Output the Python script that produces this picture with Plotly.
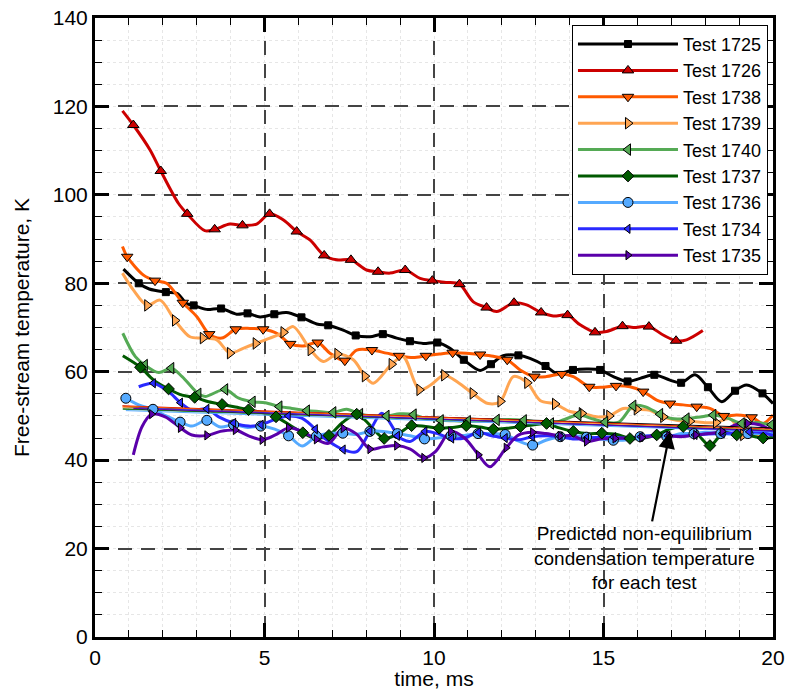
import plotly.graph_objects as go

# ---------------- data ----------------
names = ["Test 1725", "Test 1726", "Test 1738", "Test 1739", "Test 1740",
         "Test 1737", "Test 1736", "Test 1734", "Test 1735"]

# Test 1725
t_mk_1725 = [1.29, 2.09, 2.91, 3.72, 4.50, 5.29, 6.09, 6.88, 7.69, 8.49, 9.29, 10.10, 10.88, 11.68,
             12.49, 13.29, 14.10, 14.90, 15.71, 16.50, 17.29, 18.08, 18.88, 19.69]
T_mk_1725 = [80.0, 78.0, 75.0, 74.3, 73.2, 73.0, 72.3, 70.5, 68.2, 68.5, 66.9, 66.6, 62.7, 61.7,
             63.7, 61.3, 60.4, 60.4, 57.8, 59.3, 57.5, 56.5, 55.7, 55.1]
t_ln_1725 = [0.84, 1.60, 2.43, 2.70, 3.29, 4.18, 4.87, 5.65, 6.54, 7.32, 8.11, 8.90, 9.68, 10.47, 11.36,
             12.04, 12.83, 13.62, 14.50, 15.29, 16.08, 16.96, 17.70, 18.49, 19.22, 20.0]
T_ln_1725 = [83.2, 78.7, 77.7, 75.4, 74.1, 73.0, 72.4, 73.4, 70.8, 69.4, 67.9, 67.6, 66.4, 65.3, 60.3,
             63.6, 63.0, 59.6, 60.6, 58.9, 58.5, 58.1, 59.3, 53.2, 57.0, 52.8]

# Test 1726
t_mk_1726 = [1.13, 1.94, 2.72, 3.53, 4.35, 5.15, 5.95, 6.76, 7.55, 8.35, 9.15, 9.95, 10.75, 11.55,
             12.36, 13.16, 13.94, 14.75, 15.56, 16.34, 17.14]
T_mk_1726 = [115.8, 105.4, 95.7, 92.2, 93.1, 95.7, 91.7, 86.3, 85.3, 82.6, 83.0, 80.6, 79.8, 74.5,
             75.6, 73.4, 72.8, 68.9, 70.3, 70.2, 67.0]
t_ln_1726 = [0.81, 1.62, 2.46, 3.24, 3.98, 4.77, 5.56, 6.34, 7.13, 8.01, 8.70, 9.59, 10.35, 11.16,
             11.85, 12.73, 13.52, 14.31, 15.09, 15.88, 16.76, 17.45, 17.93]
T_ln_1726 = [119.0, 110.2, 98.1, 91.9, 93.4, 93.4, 94.3, 89.8, 85.3, 83.0, 82.3, 81.1, 80.2, 75.8,
             73.6, 75.1, 72.6, 70.6, 69.1, 70.0, 68.3, 67.2, 69.3]

# Test 1738
t_mk_1738 = [0.95, 1.77, 2.59, 3.37, 4.15, 4.96, 5.76, 6.57, 7.37, 8.17, 8.97, 9.76, 10.55, 11.36,
             12.16, 12.96, 13.77, 14.58, 15.37, 16.17, 16.96, 17.75, 18.55, 19.37]
T_mk_1738 = [86.0, 80.6, 75.6, 68.5, 69.6, 69.6, 66.3, 66.6, 62.5, 64.9, 63.6, 63.6, 64.3, 63.9,
             62.7, 58.9, 59.5, 56.6, 56.8, 55.5, 52.8, 52.1, 50.0, 49.7]
t_ln_1738 = [0.81, 1.42, 2.11, 3.00, 3.74, 4.57, 5.36, 6.14, 6.93, 7.72, 8.60, 9.39, 10.16, 10.95,
             11.75, 12.54, 13.32, 14.11, 14.98, 15.78, 16.57, 17.35, 18.14, 18.93, 19.71, 20.0]
T_ln_1738 = [88.3, 81.9, 80.0, 72.5, 67.6, 69.8, 68.7, 65.8, 64.2, 64.9, 64.2, 63.2, 64.0, 64.2,
             63.5, 60.4, 58.9, 58.9, 56.5, 56.6, 53.6, 52.5, 51.7, 50.2, 48.3, 50.2]

# Test 1739
t_mk_1739 = [1.54, 2.36, 3.18, 3.98, 4.74, 5.56, 6.36, 7.15, 7.96, 8.75, 9.57, 10.30, 11.14, 11.96,
             12.75, 13.57, 14.36, 15.17, 15.98, 16.76, 17.55, 18.32, 19.12]
T_mk_1739 = [75.0, 71.6, 67.6, 64.2, 66.4, 68.9, 64.9, 64.0, 59.0, 61.7, 55.9, 59.2, 55.1, 53.3,
             57.5, 52.7, 50.6, 50.0, 51.5, 49.8, 48.8, 48.5, 45.7]
t_ln_1739 = [0.81, 1.13, 1.92, 2.80, 3.59, 4.37, 5.16, 5.85, 6.73, 7.62, 8.21, 9.09, 9.90, 10.72,
             11.60, 12.34, 13.13, 14.01, 14.80, 15.58, 16.37, 17.15, 17.95, 18.73, 19.50, 20.0]
T_ln_1739 = [82.3, 78.5, 76.2, 67.9, 67.2, 65.3, 67.6, 70.2, 62.3, 62.7, 57.4, 63.4, 57.0, 57.5,
             52.8, 58.9, 53.5, 51.0, 49.8, 51.7, 51.3, 49.0, 48.5, 49.4, 45.5, 46.1]

# Test 1740
t_mk_1740 = [1.47, 2.25, 3.05, 3.84, 4.65, 5.44, 6.25, 7.03, 7.82, 8.60, 9.40, 10.20, 11.00, 11.85,
             12.65, 13.45, 14.26, 15.05, 15.88, 16.67, 17.45, 18.24, 19.08, 19.96]
T_mk_1740 = [61.5, 60.8, 55.0, 56.0, 53.2, 52.1, 51.2, 50.8, 50.4, 50.0, 50.3, 49.0, 48.8, 49.1,
             49.0, 48.3, 50.2, 48.6, 52.3, 50.4, 49.4, 50.2, 48.3, 48.0]
t_ln_1740 = [0.82, 1.19, 1.88, 2.57, 3.25, 4.24, 5.02, 5.81, 6.60, 7.42, 8.20, 9.00, 9.70, 10.60,
             11.45, 12.25, 13.05, 13.85, 14.70, 15.45, 16.22, 17.01, 17.90, 18.65, 19.50]
T_ln_1740 = [68.7, 63.4, 59.8, 58.9, 54.4, 54.0, 53.0, 51.7, 51.0, 51.5, 50.0, 50.5, 49.5, 48.9,
             48.9, 49.2, 48.6, 49.2, 49.3, 48.6, 52.1, 49.4, 49.8, 49.5, 48.5]

# Test 1737
t_mk_1737 = [1.34, 2.17, 2.94, 3.75, 4.53, 5.34, 6.13, 6.90, 7.72, 8.53, 9.34, 10.15, 10.95, 11.75,
             12.55, 13.32, 14.11, 14.95, 15.78, 16.57, 17.35, 18.14, 18.93, 19.71]
T_mk_1737 = [61.0, 56.1, 54.2, 52.6, 51.4, 49.8, 46.2, 45.6, 50.4, 44.9, 47.8, 47.2, 47.8, 47.0,
             47.6, 48.3, 46.5, 46.1, 44.9, 45.7, 47.6, 43.3, 45.7, 45.0]
t_ln_1737 = [0.82, 1.73, 2.57, 3.35, 4.14, 5.00, 5.81, 6.50, 7.30, 8.10, 8.95, 9.75, 10.55, 11.35,
             12.15, 12.95, 13.70, 14.50, 15.40, 16.20, 16.95, 17.75, 18.55, 19.30, 20.0]
T_ln_1737 = [63.6, 58.1, 54.7, 53.2, 52.0, 50.6, 47.6, 44.9, 48.5, 48.0, 46.0, 47.6, 47.4, 47.5,
             47.2, 48.0, 47.3, 46.0, 45.8, 45.0, 47.0, 46.0, 46.3, 45.5, 45.2]

# Test 1736
t_mk_1736 = [0.91, 1.71, 2.51, 3.30, 4.09, 4.89, 5.71, 6.53, 7.31, 8.11, 8.92, 9.72, 10.50, 11.30,
             12.10, 12.91, 13.72, 14.50, 15.29, 16.08, 16.87, 17.67, 18.46, 19.26]
T_mk_1736 = [54.0, 51.5, 48.6, 49.0, 48.0, 47.7, 45.5, 45.4, 46.1, 46.5, 46.0, 44.8, 45.5, 46.0,
             45.8, 43.4, 45.3, 45.2, 44.5, 45.3, 45.3, 46.0, 46.0, 46.0]
t_ln_1736 = [1.29, 2.10, 2.86, 3.70, 4.50, 5.30, 6.11, 6.90, 7.70, 8.50, 9.30, 10.10, 10.90, 11.70,
             12.50, 13.30, 14.10, 14.90, 15.70, 16.50, 17.30, 18.00, 18.90, 20.0]
T_ln_1736 = [52.5, 50.0, 47.7, 47.5, 47.4, 47.0, 43.2, 46.0, 45.8, 46.5, 45.5, 45.0, 45.6, 46.0,
             44.3, 44.5, 45.5, 44.8, 44.6, 45.5, 46.0, 46.3, 45.8, 46.0]

# Test 1734
t_mk_1734 = [1.72, 2.52, 3.30, 4.09, 4.90, 5.70, 6.50, 7.32, 8.11, 8.92, 9.73, 10.52, 11.31, 12.10,
             12.90, 13.72, 14.50, 15.30, 16.10, 16.90, 17.70, 18.50, 19.30]
T_mk_1734 = [57.4, 53.0, 51.6, 48.4, 48.0, 50.0, 47.0, 42.4, 46.6, 45.5, 46.5, 44.9, 46.3, 45.0,
             45.3, 45.3, 45.0, 45.2, 45.3, 45.5, 45.7, 46.0, 46.4]
t_ln_1734 = [1.29, 2.17, 2.86, 3.65, 4.53, 5.30, 6.10, 6.64, 7.72, 8.46, 8.80, 9.29, 10.10, 10.90,
             11.70, 12.50, 13.30, 14.10, 14.90, 15.70, 16.50, 17.30, 18.10, 18.90, 19.70, 20.0]
T_ln_1734 = [56.6, 55.5, 51.3, 49.8, 47.7, 49.2, 49.5, 45.7, 41.9, 50.6, 47.2, 44.2, 46.0, 45.0,
             45.5, 44.6, 45.5, 44.8, 45.2, 44.9, 45.5, 45.4, 45.9, 46.2, 46.2, 45.6]

# Test 1735
t_mk_1735 = [1.67, 2.52, 3.30, 4.14, 4.93, 5.71, 6.53, 7.32, 8.11, 8.90, 9.70, 10.49, 11.31, 12.13,
             12.91, 13.72, 14.50, 15.34, 16.13, 16.93, 17.72, 18.50, 19.25]
T_mk_1735 = [50.4, 47.3, 45.6, 46.8, 44.6, 47.3, 44.7, 47.2, 42.5, 43.3, 40.5, 46.5, 41.2, 42.8,
             46.3, 45.5, 44.2, 44.9, 45.1, 45.5, 45.7, 46.5, 48.3]
t_ln_1735 = [1.13, 1.39, 2.07, 2.86, 3.70, 4.53, 5.32, 6.10, 6.89, 7.70, 8.50, 9.30, 10.05, 10.90,
             11.65, 12.50, 13.30, 14.10, 14.90, 15.70, 16.50, 17.30, 18.10, 18.90, 19.60, 20.0]
T_ln_1735 = [41.2, 47.6, 49.8, 45.7, 46.5, 45.5, 45.7, 46.5, 43.8, 46.0, 43.0, 42.5, 42.0, 45.0,
             38.5, 45.7, 46.0, 45.5, 44.8, 45.0, 45.5, 45.3, 46.0, 48.0, 48.0, 46.5]

# Predicted non-equilibrium condensation temperature (straight lines, one per test)
pred_t0 = [0.84, 0.81, 0.81, 0.81, 0.82, 0.82, 0.91, 1.29, 1.13]
pred_t1 = [20.0] * 9
pred_T0 = [52.0, 52.3, 52.2, 51.9, 51.5, 51.6, 51.2, 51.8, 51.7]
pred_T1 = [47.3, 47.0, 46.9, 46.8, 46.6, 46.7, 46.4, 46.5, 46.6]

x_ticks = [0, 5, 10, 15, 20]
y_ticks = [0, 20, 40, 60, 80, 100, 120, 140]

# ---------------- styles ----------------
colors = ["#000000", "#cc0000", "#ff5a00", "#ffa552", "#55aa55",
          "#005a00", "#55aaff", "#2a2aff", "#5a00aa"]
symbols = ["square", "triangle-up", "triangle-down", "triangle-right", "triangle-left",
           "diamond", "circle", "triangle-left", "triangle-right"]
msizes = [7, 10, 10, 10, 10, 9, 10, 8, 8]

series = [
    (t_mk_1725, T_mk_1725, t_ln_1725, T_ln_1725),
    (t_mk_1726, T_mk_1726, t_ln_1726, T_ln_1726),
    (t_mk_1738, T_mk_1738, t_ln_1738, T_ln_1738),
    (t_mk_1739, T_mk_1739, t_ln_1739, T_ln_1739),
    (t_mk_1740, T_mk_1740, t_ln_1740, T_ln_1740),
    (t_mk_1737, T_mk_1737, t_ln_1737, T_ln_1737),
    (t_mk_1736, T_mk_1736, t_ln_1736, T_ln_1736),
    (t_mk_1734, T_mk_1734, t_ln_1734, T_ln_1734),
    (t_mk_1735, T_mk_1735, t_ln_1735, T_ln_1735),
]

FONT = "Liberation Sans, Arial, Helvetica, sans-serif"
fig = go.Figure()

# smooth lines
for i, (tm, Tm, tl, Tl) in enumerate(series):
    pts = sorted(zip(list(tm) + list(tl), list(Tm) + list(Tl)))
    fig.add_trace(go.Scatter(
        x=[p[0] for p in pts], y=[p[1] for p in pts], mode="lines",
        line=dict(color=colors[i], width=3, shape="spline", smoothing=0.9),
        showlegend=False, hoverinfo="skip", cliponaxis=True))

# thin predicted lines
for i in range(len(names)):
    fig.add_trace(go.Scatter(
        x=[pred_t0[i], pred_t1[i]], y=[pred_T0[i], pred_T1[i]], mode="lines",
        line=dict(color=colors[i], width=1), showlegend=False, hoverinfo="skip"))

# markers
for i, (tm, Tm, tl, Tl) in enumerate(series):
    fig.add_trace(go.Scatter(
        x=tm, y=Tm, mode="markers",
        marker=dict(symbol=symbols[i], size=msizes[i], color=colors[i],
                    line=dict(color="#000000", width=1)),
        showlegend=False, hoverinfo="skip"))

# legend entries
for i in range(len(names)):
    fig.add_trace(go.Scatter(
        x=[None], y=[None], mode="lines+markers", name=names[i],
        line=dict(color=colors[i], width=3),
        marker=dict(symbol=symbols[i], size=msizes[i], color=colors[i],
                    line=dict(color="#000000", width=1))))

fig.add_annotation(
    x=16.96, y=46.4, xref="x", yref="y",
    ax=16.22, ay=17.9, axref="x", ayref="y",
    text="Predicted non-equilibrium<br>condensation temperature<br>for each test",
    showarrow=True, arrowhead=2, arrowsize=1.5, arrowwidth=2.2, arrowcolor="#000000",
    font=dict(family=FONT, size=19, color="#000000"), align="center", bgcolor="rgba(0,0,0,0)")

axis_common = dict(
    showline=True, linecolor="#000000", linewidth=3, mirror="ticks",
    ticks="inside", ticklen=14, tickwidth=2.5, tickcolor="#000000",
    showgrid=True, gridcolor="#444444", gridwidth=1.5, griddash="14px,9px",
    zeroline=False, tickfont=dict(family=FONT, size=21, color="#000000"),
)

fig.update_xaxes(
    range=[0, 20], tickmode="array", tickvals=x_ticks, ticktext=[str(v) for v in x_ticks],
    minor=dict(dtick=1, ticks="inside", ticklen=7, tickwidth=1, tickcolor="#000000",
               showgrid=True, gridcolor="#e6e6e6", griddash="dot", gridwidth=1),
    title=dict(text="time, ms", font=dict(family=FONT, size=21, color="#000000"), standoff=4),
    **axis_common)
fig.update_yaxes(
    range=[0, 140], tickmode="array", tickvals=y_ticks, ticktext=[str(v) for v in y_ticks],
    minor=dict(dtick=5, ticks="inside", ticklen=7, tickwidth=1, tickcolor="#000000",
               showgrid=True, gridcolor="#e6e6e6", griddash="dot", gridwidth=1),
    title=dict(text="Free-stream temperature, K", font=dict(family=FONT, size=21, color="#000000"),
               standoff=18),
    **axis_common)

fig.update_layout(
    width=786, height=690,
    margin=dict(l=95, r=13, t=18, b=53, autoexpand=False),
    paper_bgcolor="white", plot_bgcolor="white",
    font=dict(family=FONT, color="#000000"),
    legend=dict(x=0.9926, xanchor="right", y=0.989, yanchor="top",
                bgcolor="white", bordercolor="#000000", borderwidth=1,
                font=dict(family=FONT, size=18, color="#000000"),
                itemwidth=100, tracegroupgap=0),
)

fig.write_html("out.html")
